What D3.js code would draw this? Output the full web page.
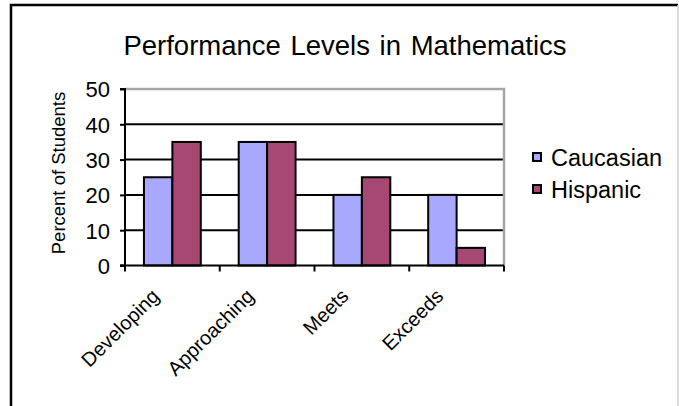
<!DOCTYPE html>
<html><head><meta charset="utf-8">
<script src="https://cdn.jsdelivr.net/npm/d3@7"></script>
<style>body{margin:0;background:#fff}svg{display:block}text{font-family:"Liberation Sans",Arial,sans-serif;fill:#000}</style>
</head><body><svg id="c" width="679" height="406"></svg>
<script>
const categories = ["Developing", "Approaching", "Meets", "Exceeds"];
const seriesNames = ["Caucasian", "Hispanic"];
const caucasian = [25, 35, 20, 20];
const hispanic = [35, 35, 25, 5];
const yTicks = [0, 10, 20, 30, 40, 50];
const colors = ["#a8a8ff", "#a64873"];
const values = [caucasian, hispanic];

const svg = d3.select("#c");
const W = 679, H = 406;
svg.append("rect").attr("width", W).attr("height", H).attr("fill", "#fff");

// outer frame
svg.append("path").attr("d", "M11,406 L11,5 L678,5").attr("fill", "none").attr("stroke", "#000").attr("stroke-width", 2.5);
svg.append("line").attr("x1", 678).attr("x2", 678).attr("y1", 5).attr("y2", 406).attr("stroke", "#d0d0d0").attr("stroke-width", 1.5);

const pLeft = 125, pRight = 504, pTop = 89, pBottom = 265.5;
const x0 = d3.scaleBand().domain(categories).range([pLeft, pRight]).padding(0);
const bw = x0.bandwidth();
const x1 = d3.scaleBand().domain(seriesNames).range([bw * 0.2, bw * 0.8]).padding(0);
const y = d3.scaleLinear().domain([0, 50]).range([pBottom, pTop]);

// title
svg.append("text").attr("x", 345).attr("y", 55).attr("text-anchor", "middle")
  .style("font-size", "27.5px").style("word-spacing", "2px").text("Performance Levels in Mathematics");

// gridlines
svg.append("g").selectAll("line").data(yTicks.filter(d => d > 0 && d < 50)).join("line")
  .attr("x1", pLeft).attr("x2", pRight).attr("y1", d => y(d)).attr("y2", d => y(d))
  .attr("stroke", "#000").attr("stroke-width", 2);
// plot border top and right (gray)
svg.append("path").attr("d", `M${pLeft},${y(50)} L${pRight},${y(50)} L${pRight},${pBottom}`)
  .attr("fill", "none").attr("stroke", "#a6a6a6").attr("stroke-width", 2.5);

// bars
const g = svg.append("g");
categories.forEach((c, i) => {
  seriesNames.forEach((s, j) => {
    g.append("rect")
      .attr("x", x0(c) + x1(s)).attr("width", x1.bandwidth())
      .attr("y", y(values[j][i])).attr("height", y(0) - y(values[j][i]))
      .attr("fill", colors[j]).attr("stroke", "#000").attr("stroke-width", 2);
  });
});

// y axis
const yAxis = d3.axisLeft(y).tickValues(yTicks).tickSize(5).tickPadding(10).tickFormat(d3.format("d"));
const ya = svg.append("g").attr("transform", `translate(${pLeft},0)`).call(yAxis);
ya.attr("font-family", null);
ya.select(".domain").attr("stroke", "#000").attr("stroke-width", 2).attr("d", `M-5,${y(50)}H0V${pBottom}H-5`);
ya.selectAll(".tick line").attr("stroke", "#000").attr("stroke-width", 2);
ya.selectAll(".tick text").style("font-size", "22px").attr("fill", "#000").attr("dy", "0.36em");

// x axis
const xa = svg.append("g");
xa.append("line").attr("x1", pLeft - 5).attr("x2", pRight).attr("y1", pBottom).attr("y2", pBottom)
  .attr("stroke", "#000").attr("stroke-width", 2);
const bounds = categories.map(c => x0(c)).concat([pRight]);
xa.selectAll("line.t").data(bounds).join("line").attr("class", "t")
  .attr("x1", d => d).attr("x2", d => d).attr("y1", pBottom).attr("y2", pBottom + 6)
  .attr("stroke", "#000").attr("stroke-width", 2);
xa.selectAll("text").data(categories).join("text")
  .attr("transform", d => `translate(${x0(d) + bw / 2 - 12},${pBottom + 32}) rotate(-45)`)
  .attr("text-anchor", "end").style("font-size", "20px").text(d => d);

// y title
svg.append("text").attr("transform", `translate(65,173) rotate(-90)`).attr("text-anchor", "middle")
  .style("font-size", "18.5px").text("Percent of Students");

// legend
const lg = svg.append("g");
seriesNames.forEach((s, j) => {
  const yy = 166 + j * 32;
  lg.append("rect").attr("x", 533).attr("y", yy - 13).attr("width", 8).attr("height", 8)
    .attr("fill", colors[j]).attr("stroke", "#000").attr("stroke-width", 2);
  lg.append("text").attr("x", 551).attr("y", yy).style("font-size", "23.5px").text(s);
});
</script></body></html>
